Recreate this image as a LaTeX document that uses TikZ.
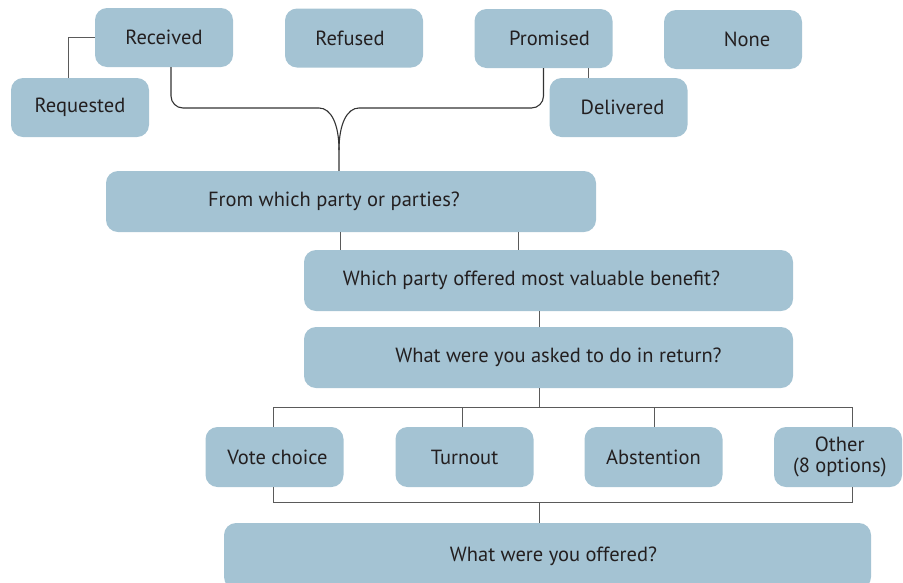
\documentclass[tikz,border=0pt]{standalone}
\usepackage{fontspec}
\setmainfont{PT Sans}
\usepackage{xcolor}
\definecolor{boxBlue}{HTML}{A4C3D3}
\definecolor{lineGrey}{HTML}{5A5A5A}
\definecolor{curveGrey}{HTML}{333333}
\definecolor{txtGrey}{HTML}{231F20}
\usetikzlibrary{calc}
% move a label sideways inside its box
\newcommand{\nudge}[2]{\hspace*{#1}#2\hspace*{-#1}}

\begin{document}
\begin{tikzpicture}[x=1pt, y=-1pt,
    box/.style={fill=boxBlue, rounded corners=12pt, minimum width=138pt,
      minimum height=59pt, inner sep=0pt, align=center, text=txtGrey,
      font=\fontsize{20.5}{21}\selectfont},
    wide/.style={box, minimum width=489pt, minimum height=61pt},
    link/.style={lineGrey, line width=0.9pt},
    stem/.style={curveGrey, line width=1.1pt}]
  \useasboundingbox (0,0) rectangle (903,582);
  % top row: what happened to the offer
  \node[box] (rcvd) at (164,37.5) {Received};
  \node[box] (rfsd) at (354,38) {\nudge{-4pt}{Refused}};
  \node[box] (prms) at (543.5,38.5) {\nudge{6pt}{Promised}};
  \node[box] (none) at (733,39.5) {\nudge{14pt}{None}};
  \node[box] (rqst) at (80,107.5) {Requested};
  \node[box] (dlvd) at (618.5,107.5) {\nudge{4pt}{Delivered}};
  % the questions
  \node[wide, minimum width=490pt] (from) at (351,201.5) {\nudge{-17pt}{From which party or parties?}};
  \node[wide] (most) at (548.5,280.5) {\nudge{-17pt}{Which party offered most valuable benefit?}};
  \node[wide] (ask) at (548.5,357.5) {\nudge{10pt}{What were you asked to do in return?}};
  % what was asked in return
  \node[box, minimum height=60pt] (vote) at (274.5,457) {\nudge{3pt}{Vote choice}};
  \node[box, minimum height=60pt] (turn) at (464.5,457) {Turnout};
  \node[box, minimum height=60pt] (abst) at (653.5,457) {Abstention};
  \node[box, minimum height=60pt, minimum width=128pt] (othr) at (838,457)
    {\nudge{3.5pt}{Other\\(8 options)}};
  \node[wide, minimum width=647pt, minimum height=66pt] (offr) at (547.5,556)
    {\nudge{6pt}{What were you offered?}};
  % side links in the top row
  \draw[link] ($(rqst.north)+(-12,0)$) |- (rcvd.west);
  \coordinate (dl) at ($(dlvd.north)+(-30,0)$);
  \draw[link] (dl) -- (dl |- prms.south);
  % received and promised merge into one stem
  \coordinate (merge) at (339,150);
  \draw[stem] ($(rcvd.south)+(7,0)$) [rounded corners=12pt] |- (307,108) [sharp corners]
    .. controls (331,108) and (339,124) .. (merge) -- (merge |- from.north);
  \draw[stem] (prms.south) [rounded corners=12pt] |- (371,108) [sharp corners]
    .. controls (347,108) and (339,124) .. (merge);
  % down through the questions
  \foreach \x in {340,518} \draw[link] (\x,0 |- from.south) -- (\x,0 |- most.north);
  \draw[link] (539,0 |- most.south) -- (539,0 |- ask.north);
  \draw[link] (539,0 |- ask.south) -- (539,407);
  \draw[link] (273,407) -- (852,407);
  \foreach \n/\x in {vote/273,turn/462,abst/654,othr/852}
    \draw[link] (\x,407) -- (\x,0 |- \n.north);
  % outer answers gather to the last question
  \draw[link] (273,0 |- vote.south) -- (273,502) -- (852,502) -- (852,0 |- othr.south);
  \draw[link] (539,502) -- (539,0 |- offr.north);
\end{tikzpicture}
\end{document}
